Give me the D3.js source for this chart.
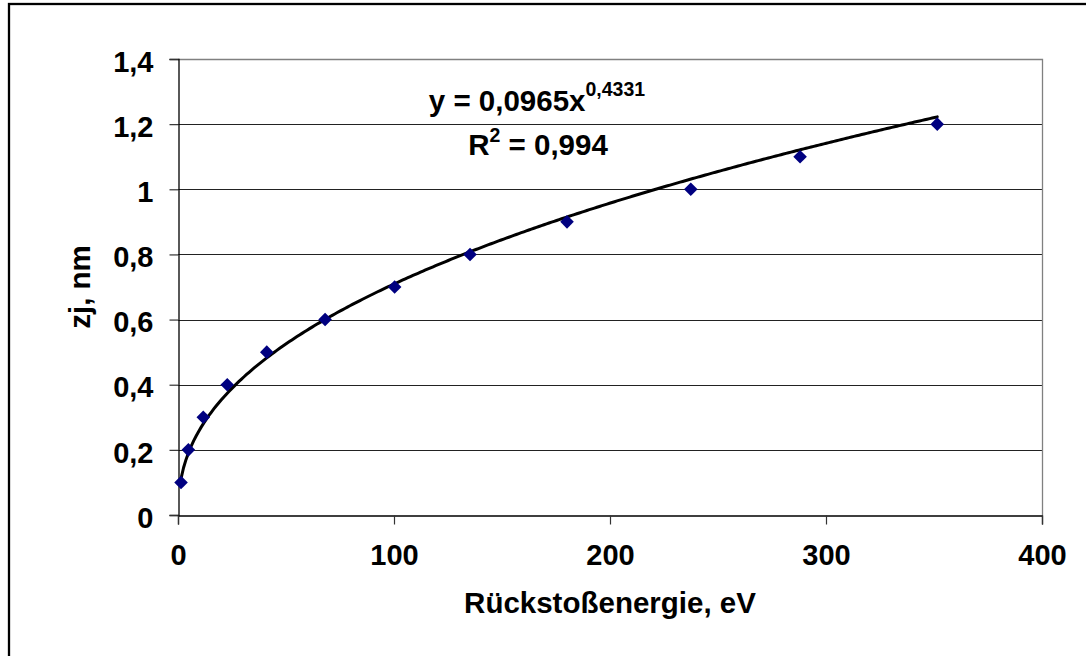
<!DOCTYPE html>
<html>
<head>
<meta charset="utf-8">
<script src="https://cdn.jsdelivr.net/npm/d3@7"></script>
<style>
  html, body { margin: 0; padding: 0; background: #fff; }
  svg { display: block; }
  text { font-family: "Liberation Sans", Arial, sans-serif; font-weight: bold; fill: #000; }
</style>
</head>
<body>
<svg id="chart" width="1086" height="656"></svg>
<script>
// Recoil energy (eV) and junction depth zj (nm)
const energies = [1.4, 4.8, 11.7, 22.8, 41.1, 68.1, 100.3, 135.2, 180.1, 237.4, 288.0, 351.5];
const depths   = [0.1, 0.2, 0.3, 0.4, 0.5, 0.6, 0.7, 0.8, 0.9, 1.0, 1.1, 1.2];

// Power-law trendline y = a * x^b
const fitA = 0.0965;
const fitB = 0.4331;
const fitR2 = "0,994";

const xTicks = [0, 100, 200, 300, 400];
const yTicks = [0, 0.2, 0.4, 0.6, 0.8, 1.0, 1.2, 1.4];

const xTitle = "Rückstoßenergie, eV";
const yTitle = "zj, nm";

const svg = d3.select("#chart");
const plot = { left: 178, right: 1042, top: 59, bottom: 515 };

const x = d3.scaleLinear().domain([0, 400]).range([plot.left, plot.right]);
const y = d3.scaleLinear().domain([0, 1.4]).range([plot.bottom, plot.top]);
const fmt = v => String(+v.toFixed(1)).replace(".", ",");

// outer chart frame
svg.append("rect")
  .attr("x", 9).attr("y", 4).attr("width", 1100).attr("height", 680)
  .attr("fill", "none").attr("stroke", "#000").attr("stroke-width", 2.3);

// horizontal gridlines
svg.append("g")
  .selectAll("line")
  .data(yTicks.filter(v => v > 0 && v < 1.4))
  .join("line")
  .attr("x1", plot.left).attr("x2", plot.right)
  .attr("y1", d => Math.round(y(d)) + 0.5).attr("y2", d => Math.round(y(d)) + 0.5)
  .attr("stroke", "#222").attr("stroke-width", 1);

// plot-area border (top and right)
svg.append("path")
  .attr("d", `M${plot.left},${plot.top + 0.5}H${plot.right + 0.5}V${plot.bottom}`)
  .attr("fill", "none").attr("stroke", "#808080").attr("stroke-width", 1.3);

// y axis
const yAxis = svg.append("g")
  .attr("transform", `translate(${plot.left + 0.5},0)`)
  .call(d3.axisLeft(y).tickValues(yTicks).tickSize(9).tickPadding(16).tickFormat(fmt));
yAxis.select(".domain").attr("stroke", "#000").attr("stroke-width", 1.3);
yAxis.selectAll(".tick line").attr("stroke", "#333").attr("stroke-width", 1.2);
yAxis.selectAll(".tick text")
  .style("font-size", "29px").style("font-family", "'Liberation Sans', Arial, sans-serif")
  .style("font-weight", "bold").attr("fill", "#000").attr("dy", "0.42em");

// x axis
const xAxis = svg.append("g")
  .attr("transform", `translate(0,${plot.bottom + 0.5})`)
  .call(d3.axisBottom(x).tickValues(xTicks).tickSize(9).tickPadding(20).tickFormat(d3.format("d")));
xAxis.select(".domain").attr("stroke", "#000").attr("stroke-width", 1.3);
xAxis.selectAll(".tick line").attr("stroke", "#333").attr("stroke-width", 1.2);
xAxis.selectAll(".tick text")
  .style("font-size", "29px").style("font-family", "'Liberation Sans', Arial, sans-serif")
  .style("font-weight", "bold").attr("fill", "#000");

// axis titles
svg.append("text")
  .attr("x", (plot.left + plot.right) / 2).attr("y", 613)
  .attr("text-anchor", "middle").style("font-size", "29.5px")
  .text(xTitle);

svg.append("text")
  .attr("transform", `translate(90,${(plot.top + plot.bottom) / 2}) rotate(-90)`)
  .attr("text-anchor", "middle").style("font-size", "29.5px")
  .text(yTitle);

// trendline over the data range
const xMin = d3.min(energies), xMax = d3.max(energies);
const fitPts = d3.range(0, 301).map(i => {
  const xv = xMin + (xMax - xMin) * i / 300;
  return [xv, fitA * Math.pow(xv, fitB)];
});
svg.append("path")
  .datum(fitPts)
  .attr("d", d3.line().x(d => x(d[0])).y(d => y(d[1])).curve(d3.curveLinear))
  .attr("fill", "none").attr("stroke", "#000").attr("stroke-width", 3)
  .attr("stroke-linejoin", "round").attr("stroke-linecap", "round");

// data markers (diamonds)
const pts = energies.map((e, i) => ({ e, z: depths[i] }));
svg.append("g")
  .selectAll("path")
  .data(pts)
  .join("path")
  .attr("d", d3.symbol().type(d3.symbolSquare).size(92)())
  .attr("transform", d => `translate(${x(d.e)},${y(d.z)}) rotate(45)`)
  .attr("fill", "#000080");

// equation label
const eq = svg.append("text")
  .attr("x", 537).attr("y", 111).attr("text-anchor", "middle").style("font-size", "29.5px");
eq.append("tspan").text(`y = ${String(fitA).replace(".", ",")}x`);
eq.append("tspan").attr("dy", -15).style("font-size", "19.5px").text(String(fitB).replace(".", ","));

const r2 = svg.append("text")
  .attr("x", 538).attr("y", 155).attr("text-anchor", "middle").style("font-size", "29.5px");
r2.append("tspan").text("R");
r2.append("tspan").attr("dy", -13).style("font-size", "19.5px").text("2");
r2.append("tspan").attr("dy", 13).text(` = ${fitR2}`);
</script>
</body>
</html>
